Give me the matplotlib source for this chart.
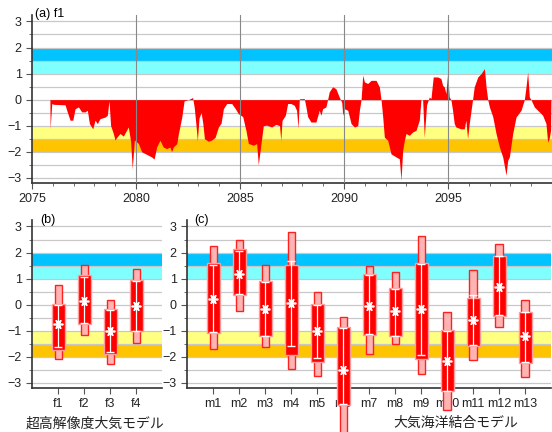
import matplotlib
matplotlib.use("Agg")
import matplotlib.pyplot as plt
from matplotlib.ticker import MultipleLocator, FixedLocator

# ----------------------------
# Datos
# ----------------------------

years = [2075.86, 2075.87, 2075.95, 2076.03, 2076.59, 2076.67, 2076.83, 2076.96, 2077.07,
         2077.23, 2077.39, 2077.55, 2077.66, 2077.76, 2077.92, 2078.03, 2078.14, 2078.27,
         2078.51, 2078.62, 2078.70, 2078.78, 2078.91, 2078.99, 2079.07, 2079.23, 2079.39,
         2079.63, 2079.74, 2079.82, 2079.92, 2080.11, 2080.27, 2080.51, 2080.75, 2080.87,
         2080.99, 2081.15, 2081.31, 2081.47, 2081.63, 2081.71, 2081.79, 2081.96, 2082.04,
         2082.20, 2082.31, 2082.52, 2082.72, 2082.80, 2082.88, 2082.95, 2083.03, 2083.13,
         2083.21, 2083.29, 2083.48, 2083.64, 2083.80, 2083.96, 2084.09, 2084.20, 2084.36,
         2084.60, 2084.76, 2084.92, 2085.13, 2085.29, 2085.40, 2085.64, 2085.80, 2085.88,
         2085.99, 2086.12, 2086.28, 2086.52, 2086.73, 2086.90, 2086.96, 2087.02, 2087.18,
         2087.29, 2087.45, 2087.61, 2087.72, 2087.79, 2087.85, 2088.09, 2088.17, 2088.25,
         2088.41, 2088.65, 2088.81, 2088.89, 2088.97, 2089.13, 2089.21, 2089.29, 2089.45,
         2089.61, 2089.77, 2089.89, 2089.94, 2090.02, 2090.18, 2090.34, 2090.50, 2090.66,
         2090.74, 2090.82, 2090.90, 2090.98, 2091.14, 2091.30, 2091.54, 2091.70, 2091.78,
         2091.86, 2091.94, 2092.10, 2092.26, 2092.50, 2092.66, 2092.74, 2092.82, 2092.90,
         2092.98, 2093.14, 2093.30, 2093.46, 2093.62, 2093.70, 2093.78, 2093.86, 2093.97,
         2094.10, 2094.18, 2094.29, 2094.50, 2094.66, 2094.74, 2094.82, 2094.90, 2094.98,
         2095.06, 2095.14, 2095.22, 2095.30, 2095.38, 2095.62, 2095.78, 2095.86, 2095.94,
         2096.02, 2096.18, 2096.26, 2096.43, 2096.59, 2096.75, 2096.83, 2096.91, 2096.99,
         2097.15, 2097.31, 2097.47, 2097.63, 2097.79, 2097.87, 2097.95, 2098.11, 2098.27,
         2098.51, 2098.67, 2098.75, 2098.83, 2098.91, 2098.99, 2099.15, 2099.39, 2099.55,
         2099.71, 2099.79, 2099.86, 2099.93, 2099.95]

f1_index = [0.0, -1.12, -0.15, -0.18, -0.20, -0.41, -0.79, -0.79, -0.35,
            -0.28, -0.47, -0.47, -0.41, -0.92, -1.12, -0.79, -0.92, -0.73,
            -0.67, -0.60, -0.05, -1.00, -1.30, -1.55, -1.45, -1.30, -1.40,
            -1.05, -1.60, -2.65, -1.55, -1.68, -2.00, -2.10, -2.20, -2.28,
            -1.82, -1.56, -1.82, -1.88, -1.82, -2.00, -1.82, -1.69, -1.30,
            -0.67, -0.05, 0.00, 0.08, -0.30, -0.95, -1.58, -0.70, -0.50,
            -0.90, -1.50, -1.60, -1.55, -1.45, -1.05, -0.90, -0.35, -0.15,
            -0.15, -0.33, -0.54, -0.65, -1.20, -1.68, -1.75, -1.69, -2.50,
            -1.80, -1.00, -0.98, -1.05, -0.95, -1.00, -1.57, -0.80, -0.60,
            -0.15, -0.15, -0.22, -0.41, -1.10, 0.03, 0.04, -0.28, -0.65,
            -0.86, -0.86, -0.41, -0.60, -0.35, -0.28, 0.00, 0.30, 0.49,
            0.42, 0.10, -0.10, -0.60, -0.35, -0.41, -0.92, -1.05, -1.00,
            -0.40, 0.00, 0.94, 0.68, 0.62, 0.74, 0.74, 0.49, 0.00,
            -0.65, -1.44, -1.56, -2.08, -2.20, -2.27, -3.10, -1.95, -1.56,
            -1.30, -1.37, -1.24, -1.18, -0.79, 0.00, 0.00, -1.44, -0.20,
            0.10, 0.04, 0.87, 0.87, 0.81, 0.55, 0.49, 0.23, 1.00,
            0.10, 0.00, -0.41, -0.92, -1.05, -1.12, -1.12, -0.79, -1.50,
            -0.92, 0.00, 0.49, 0.87, 1.00, 1.19, 0.49, 0.00, -0.28,
            -0.65, -1.30, -1.82, -2.20, -2.90, -2.33, -2.20, -1.30, -0.67,
            -0.41, 0.00, 0.49, 1.06, 0.10, 0.00, -0.28, -0.47, -0.60,
            -0.92, -1.63, -1.50, -1.18, 0.0]

year_ticks = [2075, 2080, 2085, 2090, 2095]

# (b) modelos atmosfericos de alta resolucion
hires_names = ["f1", "f2", "f3", "f4"]
hires_min = [-2.09, -1.18, -2.28, -1.47]
hires_max = [0.77, 1.54, 0.19, 1.38]
hires_box_lo = [-1.73, -0.74, -1.90, -1.00]
hires_box_hi = [0.04, 1.15, -0.17, 0.96]
hires_line_lo = [-1.64, -0.70, -1.80, -1.00]
hires_line_hi = [0.00, 1.05, -0.20, 0.90]
hires_center = [-0.74, 0.13, -1.00, -0.04]

# (c) modelos acoplados atmosfera-oceano
cpl_names = ["m1", "m2", "m3", "m4", "m5", "m6", "m7", "m8", "m9", "m10", "m11", "m12", "m13"]
cpl_min = [-1.69, -0.23, -1.63, -2.47, -2.73, -5.20, -1.90, -1.51, -2.65, -4.04, -2.12, -0.87, -2.79]
cpl_max = [2.24, 2.50, 1.54, 2.78, 0.49, -0.49, 1.47, 1.24, 2.65, -0.28, 1.32, 2.31, 0.19]
cpl_box_lo = [-1.10, 0.38, -1.22, -1.92, -2.22, -3.85, -1.15, -1.22, -2.08, -3.33, -1.60, -0.45, -2.24]
cpl_box_hi = [1.58, 2.12, 0.90, 1.54, 0.04, -0.86, 1.19, 0.62, 1.58, -0.99, 0.26, 1.88, -0.28]
cpl_line_lo = [-1.05, 0.40, -1.20, -1.58, -2.05, -3.80, -1.12, -1.20, -1.92, -3.30, -1.55, -0.40, -2.20]
cpl_line_hi = [1.52, 2.05, 0.85, 1.67, 0.00, -0.90, 1.12, 0.60, 1.55, -1.00, 0.38, 1.85, -0.30]
cpl_center = [0.23, 1.19, -0.17, 0.07, -1.03, -2.50, -0.04, -0.26, -0.17, -2.18, -0.60, 0.68, -1.22]

band_colors = {(1.5, 2.0): "#00c3ff", (1.0, 1.5): "#80ffff",
               (-1.5, -1.0): "#ffff80", (-2.0, -1.5): "#ffc400"}

plt.rcParams["font.family"] = ["Liberation Sans", "DejaVu Sans"]
plt.rcParams["font.size"] = 9


def style_axis(ax):
    for lo, hi in band_colors:
        ax.axhspan(lo, hi, color=band_colors[(lo, hi)], lw=0, zorder=0)
    for v in [x * 0.5 for x in range(-6, 7)]:
        ax.axhline(v, color="#c8c8c8", lw=0.9, zorder=1)
    ax.set_ylim(-3.2, 3.25)
    ax.yaxis.set_major_locator(MultipleLocator(1))
    ax.yaxis.set_minor_locator(MultipleLocator(0.5))
    ax.spines["top"].set_visible(False)
    ax.spines["right"].set_visible(False)
    for s in ("left", "bottom"):
        ax.spines[s].set_color("#333333")
        ax.spines[s].set_linewidth(1.2)
    ax.tick_params(which="major", direction="out", length=4, color="#555555", labelcolor="#222222")
    ax.tick_params(which="minor", direction="out", length=2.5, color="#555555")
    ax.set_facecolor("white")


def draw_boxes(ax, names, vmin, vmax, box_lo, box_hi, line_lo, line_hi, center):
    xs = list(range(1, len(names) + 1))
    for i, x in enumerate(xs):
        ax.bar(x, vmax[i] - vmin[i], bottom=vmin[i], width=0.27, color="#ffb4b4",
               edgecolor="#ff2020", lw=1.0, zorder=4, clip_on=False)
        ax.bar(x, box_hi[i] - box_lo[i], bottom=box_lo[i], width=0.5, color="#ff0000",
               edgecolor="#ff9c9c", lw=1.0, zorder=5, clip_on=False)
        ax.vlines(x, line_lo[i], line_hi[i], color="white", lw=0.9, zorder=6, clip_on=False)
        ax.hlines([line_lo[i], line_hi[i]], x - 0.17, x + 0.17, color="white", lw=1.0,
                  zorder=6, clip_on=False)
        ax.plot(x, center[i], marker=(6, 2, 90), ms=7, mec="white", mew=1.2,
                ls="none", zorder=7, clip_on=False)
    ax.set_xlim(0, len(names) + 1)
    ax.set_xticks(xs)
    ax.set_xticklabels(names)


fig = plt.figure(figsize=(5.52, 4.32), dpi=100)

# ---- (a) serie temporal
ax_a = fig.add_axes([0.058, 0.5764, 0.942, 0.389])
style_axis(ax_a)
ax_a.fill_between(years, 0, f1_index, color="#ff0000", lw=0, zorder=3)
ax_a.set_xlim(2075, 2100)
ax_a.xaxis.set_major_locator(FixedLocator(year_ticks))
ax_a.xaxis.set_minor_locator(MultipleLocator(1))
for yr in year_ticks[1:]:
    ax_a.axvline(yr, color="#888888", lw=0.8, zorder=3.5)
ax_a.text(0.006, 1.005, "(a) f1", transform=ax_a.transAxes, va="center", ha="left", fontsize=9)

# ---- (b) modelos alta resolucion
ax_b = fig.add_axes([0.058, 0.1019, 0.2355, 0.3889])
style_axis(ax_b)
draw_boxes(ax_b, hires_names, hires_min, hires_max, hires_box_lo, hires_box_hi,
           hires_line_lo, hires_line_hi, hires_center)
ax_b.text(0.06, 1.0, "(b)", transform=ax_b.transAxes, va="center", ha="left", fontsize=9)

# ---- (c) modelos acoplados
ax_c = fig.add_axes([0.3388, 0.1019, 0.6594, 0.3889])
style_axis(ax_c)
draw_boxes(ax_c, cpl_names, cpl_min, cpl_max, cpl_box_lo, cpl_box_hi,
           cpl_line_lo, cpl_line_hi, cpl_center)
ax_c.text(0.02, 1.0, "(c)", transform=ax_c.transAxes, va="center", ha="left", fontsize=9)

jp = ["Noto Sans CJK JP", "DejaVu Sans"]
fig.text(95 / 552, 1 - 424 / 432, "超高解像度大気モデル", family=jp, fontsize=10,
         ha="center", va="center", color="#222222")
fig.text(456 / 552, 1 - 423 / 432, "大気海洋結合モデル", family=jp, fontsize=10,
         ha="center", va="center", color="#222222")

fig.savefig("out.png", dpi=100)
